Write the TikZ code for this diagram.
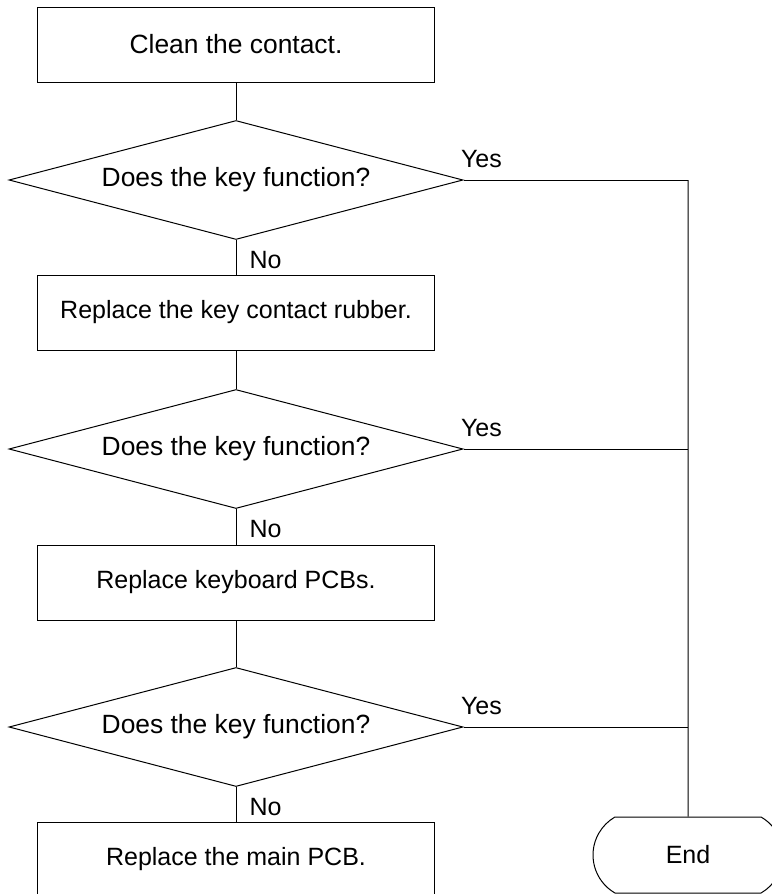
\documentclass[tikz,border=0pt]{standalone}
\usepackage{fontspec}
\setmainfont{Liberation Sans}
\usetikzlibrary{shapes}

\begin{document}
\begin{tikzpicture}[x=0.5pt,y=-0.5pt,draw=black!100,line width=0.5pt]
	\fontsize{12.5}{15}\selectfont
	\def \mid{236}
	\def \side{688}
	\def \rowone{44.5}
	\def \askone{180}
	\def \rowtwo{312.5}
	\def \asktwo{449}
	\def \rowthree{582.5}
	\def \askthree{727}
	\def \rowfour{859.5}
	\def \bottom{855}

	\useasboundingbox (0,0) rectangle (771,894);

	\tikzstyle{s-node}=[rectangle,draw=black!100,inner sep=0pt,minimum width=198.5pt,minimum height=37.5pt]
	\tikzstyle{q-node}=[diamond,draw=black!100,inner sep=0pt,shape aspect=3.815,minimum width=227pt,minimum height=59.5pt,font=\fontsize{13.2}{15}\selectfont]
	\tikzstyle{e-node}=[rounded rectangle,rounded rectangle arc length=120,draw=black!100,inner sep=0pt,minimum width=95pt,minimum height=38pt]
	\tikzstyle{yes}=[at start,anchor=base west,inner sep=0pt,xshift=-1.5pt,yshift=6.5pt]
	\tikzstyle{no}=[at start,anchor=base west,inner sep=0pt,xshift=6.5pt,yshift=-14pt]

	% steps
	\node[s-node,font=\fontsize{13.2}{15}\selectfont]	(s1)	at (\mid,\rowone)	{Clean the contact.};
	\node[q-node]	(q1)	at (\mid,\askone)		{Does the key function?};
	\node[s-node]	(s2)	at (\mid,\rowtwo)		{Replace the key contact rubber.};
	\node[q-node]	(q2)	at (\mid,\asktwo)		{Does the key function?};
	\node[s-node]	(s3)	at (\mid,\rowthree)		{Replace keyboard PCBs.};
	\node[q-node]	(q3)	at (\mid,\askthree)		{Does the key function?};
	\node[s-node]	(s4)	at (\mid,\rowfour)		{Replace the main PCB.};

	% end column
	\node[e-node]	(end)	at (\side,\bottom)		{End};
	\coordinate		(j1)	at (\side,\askone);
	\coordinate		(j2)	at (\side,\asktwo);
	\coordinate		(j3)	at (\side,\askthree);

	\path
		(s1)		edge							(q1)
		(q1)		edge	node [no]	{No}	(s2)
		(s2)		edge							(q2)
		(q2)		edge	node [no]	{No}	(s3)
		(s3)		edge							(q3)
		(q3)		edge	node [no]	{No}	(s4)

		(q1.east)	edge	node [yes]	{Yes}	(j1)
		(q2.east)	edge	node [yes]	{Yes}	(j2)
		(q3.east)	edge	node [yes]	{Yes}	(j3)
		(j1)		edge							(end);
\end{tikzpicture}
\end{document}
